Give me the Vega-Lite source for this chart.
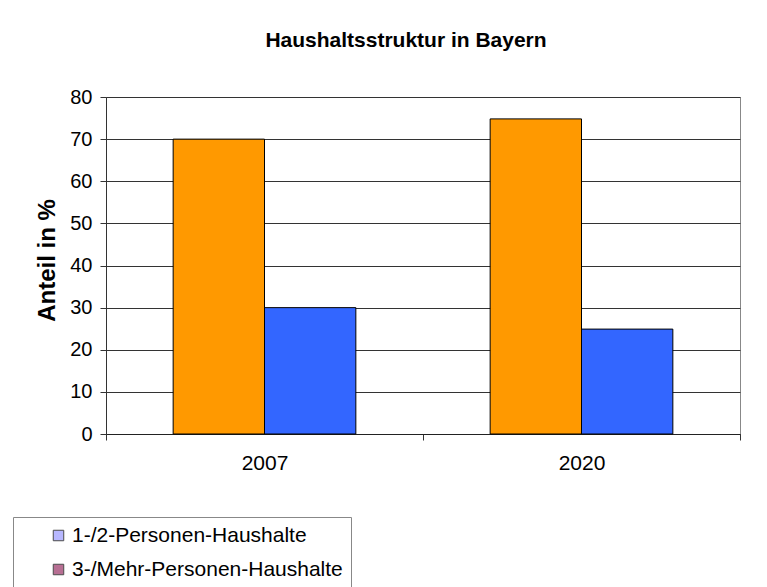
{
  "$schema": "https://vega.github.io/schema/vega-lite/v6.json",
  "width": 634,
  "height": 337,
  "autosize": {"type": "none"},
  "padding": {"left": 106, "top": 97, "right": 27, "bottom": 153},
  "background": "white",
  "title": {
    "text": "Haushaltsstruktur in Bayern",
    "fontSize": 21,
    "font": "Liberation Sans",
    "fontWeight": "bold",
    "color": "black",
    "baseline": "alphabetic",
    "offset": 19,
    "dx": -17
  },
  "data": {
    "values": [
      {"Jahr": "2007", "Gruppe": "1-/2-Personen-Haushalte", "Anteil": 70},
      {"Jahr": "2007", "Gruppe": "3-/Mehr-Personen-Haushalte", "Anteil": 30},
      {"Jahr": "2020", "Gruppe": "1-/2-Personen-Haushalte", "Anteil": 74.8},
      {"Jahr": "2020", "Gruppe": "3-/Mehr-Personen-Haushalte", "Anteil": 24.9}
    ]
  },
  "layer": [
    {
      "mark": {"type": "bar", "stroke": "black", "strokeWidth": 1},
      "encoding": {
        "x": {
          "field": "Jahr",
          "type": "nominal",
          "scale": {"paddingInner": 0, "paddingOuter": 0},
          "axis": {
            "title": null,
            "labelAngle": 0,
            "tickBand": "extent",
            "tickSize": 6,
            "tickColor": "#333",
            "domainColor": "#222",
            "labelFontSize": 21,
            "labelPadding": 12,
            "labelColor": "black",
            "grid": false
          }
        },
        "xOffset": {
          "field": "Gruppe",
          "type": "nominal",
          "scale": {"paddingInner": 0, "paddingOuter": 0.735}
        },
        "y": {
          "field": "Anteil",
          "type": "quantitative",
          "scale": {"domain": [0, 80], "nice": false},
          "axis": {
            "title": "Anteil in %",
            "titleFontSize": 24,
            "titleFontWeight": "bold",
            "titleColor": "black",
            "titleX": -59,
            "titleY": 163,
            "titleAlign": "center",
            "titleBaseline": "middle",
            "titleAngle": -90,
            "values": [0, 10, 20, 30, 40, 50, 60, 70, 80],
            "labelFontSize": 20,
            "labelColor": "black",
            "labelPadding": 8,
            "tickSize": 6,
            "tickColor": "#333",
            "domainColor": "#333",
            "grid": true,
            "gridColor": "#333",
            "gridWidth": 1
          }
        },
        "fill": {
          "field": "Gruppe",
          "type": "nominal",
          "scale": {"range": ["#ff9900", "#3366ff"]},
          "legend": null
        }
      }
    },
    {
      "transform": [{"filter": "false"}],
      "mark": {"type": "point", "shape": "square", "filled": true, "stroke": "black", "strokeWidth": 1},
      "encoding": {
        "x": {"field": "Jahr", "type": "nominal"},
        "y": {"field": "Anteil", "type": "quantitative"},
        "color": {
          "field": "Gruppe",
          "type": "nominal",
          "scale": {
            "domain": ["1-/2-Personen-Haushalte", "3-/Mehr-Personen-Haushalte"],
            "range": ["#9999ff", "#993366"]
          },
          "legend": {
            "title": null,
            "orient": "none",
            "legendX": -93,
            "legendY": 420,
            "direction": "vertical",
            "symbolType": "square",
            "symbolSize": 110,
            "symbolStrokeColor": "black",
            "symbolStrokeWidth": 1,
            "labelFontSize": 21,
            "labelLimit": 500,
            "labelColor": "black",
            "padding": 8,
            "symbolOffset": 27,
            "labelOffset": 3,
            "rowPadding": 12,
            "strokeColor": "#888888",
            "fillColor": "white"
          }
        }
      }
    }
  ],
  "config": {
    "font": "Liberation Sans",
    "view": {"stroke": "#888888", "strokeWidth": 1},
    "axis": {"labelFont": "Liberation Sans", "titleFont": "Liberation Sans"},
    "legend": {"labelFont": "Liberation Sans"}
  }
}
